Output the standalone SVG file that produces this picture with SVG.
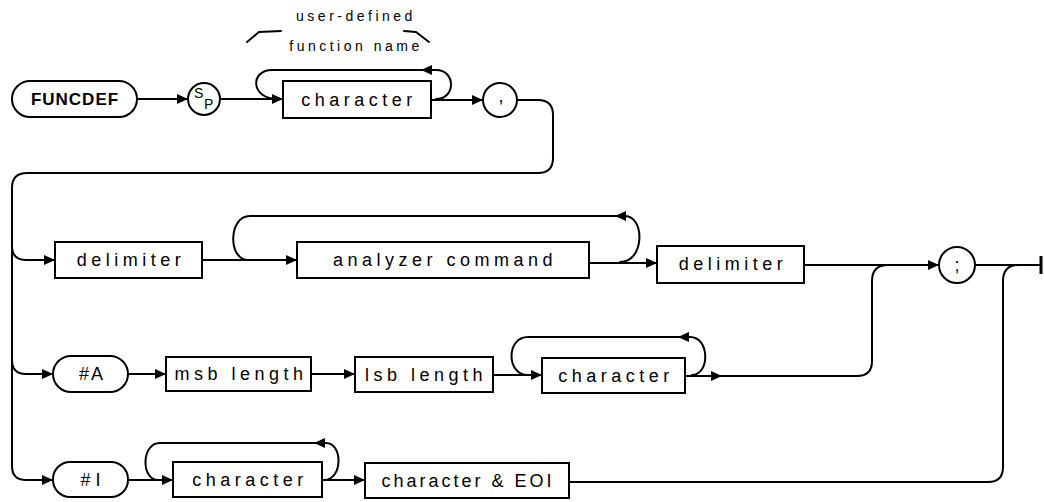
<svg xmlns="http://www.w3.org/2000/svg" width="1044" height="502" viewBox="0 0 1044 502">
<style>
.b{fill:#fff;stroke:#000;stroke-width:2}
.c{fill:none;stroke:#000;stroke-width:2;stroke-linecap:round;stroke-linejoin:round}
.t{font-family:"Liberation Sans",Arial,sans-serif;font-size:18px;letter-spacing:4.5px;fill:#000;text-anchor:middle}
.k{font-family:"Liberation Sans",Arial,sans-serif;font-size:17px;font-weight:bold;letter-spacing:1px;fill:#000;text-anchor:middle}
.n{font-family:"Liberation Sans",Arial,sans-serif;font-size:14px;letter-spacing:3.5px;fill:#000;text-anchor:middle}
.s{font-family:"Liberation Sans",Arial,sans-serif;font-size:14px;fill:#000}
</style>
<defs>
<marker id="a" markerUnits="userSpaceOnUse" markerWidth="11" markerHeight="10" refX="11" refY="5" orient="auto">
<path d="M0,0 L11,5 L0,10 Z" fill="#000"/>
</marker>
</defs>
<g id="annotation">
<text class="n" x="356" y="21">user-defined</text>
<text class="n" x="356" y="51">function name</text>
<path class="c" d="M247,42 L259,32 L281,31"/>
<path class="c" d="M404,31 L416,32 L429,42"/>
</g>
<g id="connectors">
<path class="c" d="M137,99 L188,99" marker-end="url(#a)"/>
<path class="c" d="M220,99 L283,99" marker-end="url(#a)"/>
<path class="c" d="M436,99 C456,99 456,70 436,70 L421,70" marker-end="url(#a)"/>
<path class="c" d="M421,70 L272,70 C250,70 250,99 278,99"/>
<path class="c" d="M431,100 L483,100" marker-end="url(#a)"/>
<path class="c" d="M517,100 L538,100 Q553,100 553,115 L553,158 Q553,173 538,173 L27,173 Q12,173 12,188 L12,466 Q12,480 26,480 L53,480" marker-end="url(#a)"/>
<path class="c" d="M12,246 Q12,260 26,260 L55,260" marker-end="url(#a)"/>
<path class="c" d="M12,360 Q12,374 26,374 L53,374" marker-end="url(#a)"/>
<path class="c" d="M202,260 L297,260" marker-end="url(#a)"/>
<path class="c" d="M620,262 C645,262 645,216 625,216 L615,216" marker-end="url(#a)"/>
<path class="c" d="M615,216 L250,216 C228,216 228,260 248,260"/>
<path class="c" d="M589,263 L657,263" marker-end="url(#a)"/>
<path class="c" d="M804,265 L939,265" marker-end="url(#a)"/>
<path class="c" d="M975,265 L1041,265"/>
<path d="M1041,256 L1041,274" stroke="#000" stroke-width="3"/>
<path class="c" d="M128,374 L166,374" marker-end="url(#a)"/>
<path class="c" d="M311,374 L355,374" marker-end="url(#a)"/>
<path class="c" d="M493,375 L542,375" marker-end="url(#a)"/>
<path class="c" d="M692,375 C710,375 710,337 690,337 L678,337" marker-end="url(#a)"/>
<path class="c" d="M678,337 L528,337 C506,337 506,375 528,375"/>
<path class="c" d="M685,376 L722,376" marker-end="url(#a)"/>
<path class="c" d="M722,376 L857,376 Q872,376 872,361 L872,281 Q872,265 888,265"/>
<path class="c" d="M128,480 L173,480" marker-end="url(#a)"/>
<path class="c" d="M324,480 C343,480 343,443 326,443 L314,443" marker-end="url(#a)"/>
<path class="c" d="M314,443 L160,443 C141,443 141,480 158,480"/>
<path class="c" d="M322,480 L365,480" marker-end="url(#a)"/>
<path class="c" d="M569,482 L988,482 Q1003,482 1003,467 L1003,281 Q1003,265 1019,265"/>
</g>
<g id="funcdef"><rect class="b" x="12" y="81" width="125" height="36" rx="18"/><text class="k" x="75" y="105">FUNCDEF</text></g>
<g id="sp"><circle class="b" cx="204" cy="99" r="16"/><text class="s" x="194" y="98">S</text><text class="s" x="204" y="109">P</text></g>
<g id="character1"><rect class="b" x="283" y="81" width="148" height="37"/><text class="t" x="359" y="106">character</text></g>
<g id="comma"><circle class="b" cx="500" cy="100" r="17"/><text class="t" x="501" y="102" style="letter-spacing:0">,</text></g>
<g id="delimiter1"><rect class="b" x="55" y="242" width="147" height="36"/><text class="t" x="131" y="266">delimiter</text></g>
<g id="analyzer"><rect class="b" x="297" y="242" width="292" height="36"/><text class="t" x="445" y="266">analyzer command</text></g>
<g id="delimiter2"><rect class="b" x="657" y="246" width="147" height="37"/><text class="t" x="733" y="270">delimiter</text></g>
<g id="semicolon"><circle class="b" cx="957" cy="265" r="18"/><text class="t" x="957" y="271" style="letter-spacing:0">;</text></g>
<g id="hashA"><rect class="b" x="53" y="356" width="75" height="36" rx="18"/><text class="t" x="92" y="380" style="letter-spacing:2px">#A</text></g>
<g id="msb"><rect class="b" x="166" y="357" width="145" height="34"/><text class="t" x="241" y="380">msb length</text></g>
<g id="lsb"><rect class="b" x="355" y="357" width="138" height="35"/><text class="t" x="426" y="381">lsb length</text></g>
<g id="character2"><rect class="b" x="542" y="358" width="143" height="35"/><text class="t" x="616" y="382">character</text></g>
<g id="hashI"><rect class="b" x="53" y="462" width="75" height="35" rx="17"/><text class="t" x="93" y="486" style="letter-spacing:5px">#I</text></g>
<g id="character3"><rect class="b" x="173" y="462" width="149" height="35"/><text class="t" x="250" y="486">character</text></g>
<g id="charEOI"><rect class="b" x="365" y="463" width="204" height="35"/><text class="t" x="468" y="487" style="letter-spacing:3px">character &amp; EOI</text></g>
</svg>
